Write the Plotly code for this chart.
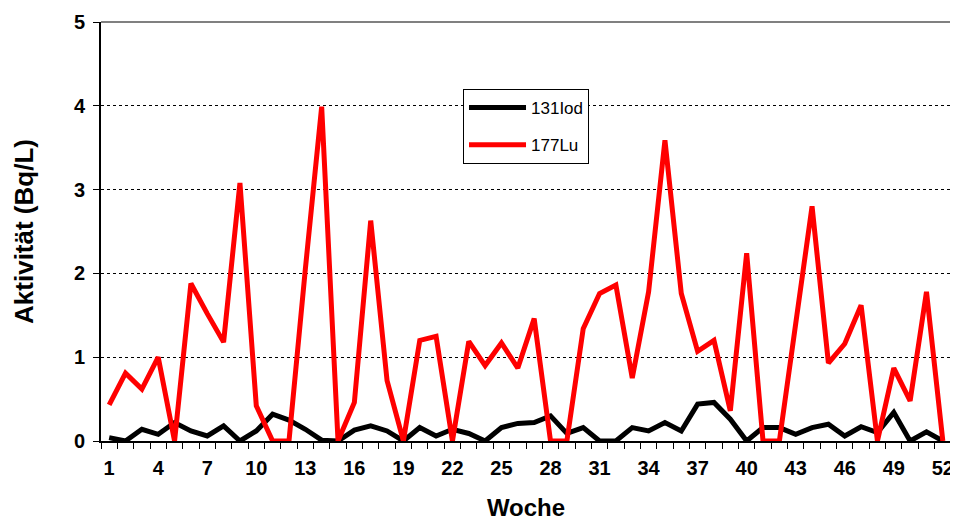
import plotly.graph_objects as go

weeks = list(range(1, 53))
iod131 = [0.04, 0.00, 0.14, 0.08, 0.22, 0.12, 0.06, 0.18, 0.00, 0.12,
          0.32, 0.25, 0.14, 0.01, 0.00, 0.13, 0.18, 0.12, 0.00, 0.16,
          0.06, 0.14, 0.09, 0.00, 0.16, 0.21, 0.22, 0.30, 0.09, 0.16,
          0.00, 0.00, 0.16, 0.12, 0.22, 0.12, 0.44, 0.46, 0.26, 0.00,
          0.16, 0.16, 0.08, 0.16, 0.20, 0.06, 0.17, 0.10, 0.34, 0.00,
          0.11, 0.00]
lu177 = [0.43, 0.81, 0.62, 1.00, 0.00, 1.88, 1.52, 1.18, 3.08, 0.42,
         0.00, 0.00, 2.05, 3.99, 0.00, 0.46, 2.63, 0.72, 0.00, 1.20,
         1.25, 0.00, 1.19, 0.90, 1.17, 0.87, 1.46, 0.00, 0.00, 1.34,
         1.76, 1.86, 0.75, 1.78, 3.59, 1.76, 1.07, 1.20, 0.36, 2.24,
         0.00, 0.00, 1.40, 2.80, 0.93, 1.16, 1.62, 0.00, 0.87, 0.48,
         1.78, 0.00]
tick_weeks = list(range(1, 53, 3))
y_ticks = [0, 1, 2, 3, 4, 5]
x_title = "Woche"
y_title = "Aktivität (Bq/L)"

FONT = "Arial, Liberation Sans, sans-serif"

fig = go.Figure()
fig.add_trace(go.Scatter(x=weeks, y=iod131, mode="lines", name="131Iod",
                         legendgroup="a",
                         line=dict(color="black", width=5)))
fig.add_trace(go.Scatter(x=weeks, y=lu177, mode="lines", name="177Lu",
                         legendgroup="b",
                         line=dict(color="#ff0000", width=5)))

# the page body has an 8px margin, so the figure is sized to fit inside it
fig.update_layout(
    width=950, height=513,
    margin=dict(l=93, r=7, t=14, b=80),
    paper_bgcolor="white", plot_bgcolor="white",
    font=dict(family=FONT, color="black"),
    showlegend=True,
    legend=dict(x=0.4259, y=0.84, xanchor="left", yanchor="top",
                bgcolor="white", bordercolor="black", borderwidth=1,
                font=dict(size=17, family=FONT),
                itemwidth=57,
                tracegroupgap=12, traceorder="grouped"),
    xaxis=dict(range=[0.5, 52.5], tickmode="array", tickvals=tick_weeks,
               ticktext=[str(t) for t in tick_weeks], ticks="",
               tickfont=dict(size=20, family=FONT, weight="bold"),
               ticklabeloverflow="allow", automargin=False,
               ticklabelstandoff=8,
               showgrid=False, zeroline=False,
               showline=True, linecolor="black", linewidth=2,
               minor=dict(tickmode="linear", tick0=0.5, dtick=1,
                          ticks="outside", ticklen=6, tickcolor="black",
                          tickwidth=1, showgrid=False),
               title=dict(text=x_title,
                          font=dict(size=24, family=FONT, weight="bold"),
                          standoff=34)),
    yaxis=dict(range=[0, 5], tickmode="array", tickvals=y_ticks,
               ticks="outside", ticklen=6, tickcolor="black",
               tickfont=dict(size=20, family=FONT, weight="bold"),
               automargin=False, ticklabelstandoff=4,
               showgrid=True, gridcolor="black", griddash="dot", gridwidth=1,
               zeroline=False,
               showline=True, linecolor="black", linewidth=2,
               title=dict(text=y_title,
                          font=dict(size=26, family=FONT, weight="bold"),
                          standoff=33)),
)

fig.add_shape(type="line", xref="paper", yref="paper", x0=0, x1=1, y0=1, y1=1,
              line=dict(color="#808080", width=2))
fig.add_shape(type="line", xref="paper", yref="paper", x0=1, x1=1, y0=0, y1=1,
              line=dict(color="#808080", width=2))

fig.write_html("out.html")
